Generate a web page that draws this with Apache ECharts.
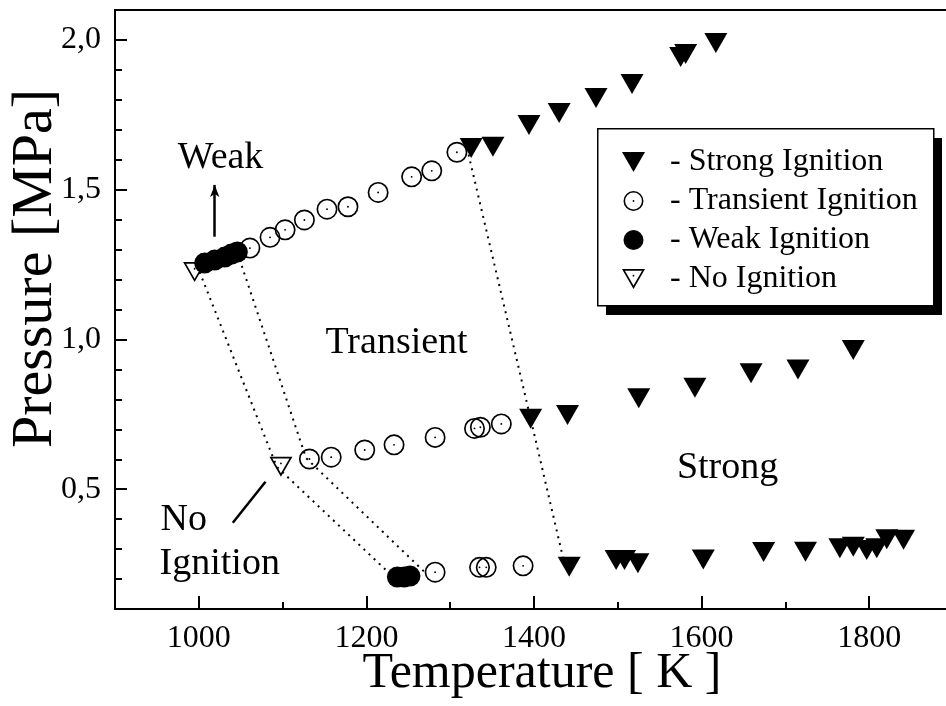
<!DOCTYPE html>
<html>
<head>
<meta charset="utf-8">
<script src="https://cdn.jsdelivr.net/npm/echarts@6/dist/echarts.min.js"></script>
<style>html,body{margin:0;padding:0;background:#fff}#c{width:946px;height:706px}</style>
</head>
<body>
<div id="c"></div>
<script>
// ---- data ----
const strongT = [1325, 1351, 1394, 1430, 1474, 1517, 1575, 1581, 1617,
                 1396, 1440, 1525, 1592, 1659, 1715, 1781,
                 1442, 1498, 1508, 1524, 1602, 1674, 1724, 1765, 1781, 1797, 1809, 1821, 1841];
const strongP = [1.639, 1.643, 1.716, 1.756, 1.806, 1.853, 1.943, 1.953, 1.990,
                 0.735, 0.748, 0.804, 0.839, 0.887, 0.900, 0.965,
                 0.241, 0.264, 0.264, 0.253, 0.265, 0.290, 0.291, 0.303, 0.308, 0.297, 0.303, 0.333, 0.331];
const transientT = [1061, 1085, 1103, 1126, 1153, 1178, 1214, 1254, 1278, 1308,
                    1132, 1158, 1198, 1233, 1282, 1329, 1336, 1361,
                    1282, 1335, 1343, 1387];
const transientP = [1.305, 1.341, 1.366, 1.399, 1.435, 1.443, 1.491, 1.543, 1.563, 1.625,
                    0.601, 0.607, 0.631, 0.648, 0.673, 0.703, 0.707, 0.718,
                    0.223, 0.239, 0.239, 0.244];
const weakT = [1007, 1019, 1031, 1039, 1046, 1237, 1245, 1252];
const weakP = [1.255, 1.265, 1.275, 1.285, 1.292, 0.207, 0.207, 0.210];
const noIgnT = [995, 1098];
const noIgnP = [1.225, 0.575];
// dotted boundary lines
const lineA_T = [1320, 1396, 1437];
const lineA_P = [1.640, 0.735, 0.243];
const lineB_T = [1001, 1093, 1232];
const lineB_P = [1.225, 0.575, 0.207];
const lineC_T = [1046, 1128, 1270];
const lineC_P = [1.290, 0.604, 0.222];
// axis ticks
const xMajorTicks = [1000, 1200, 1400, 1600, 1800];
const yMajorTicks = [0.5, 1.0, 1.5, 2.0];
const seriesNames = ['Strong Ignition', 'Transient Ignition', 'Weak Ignition', 'No Ignition'];

const zip = (a, b) => a.map((v, i) => [v, b[i]]);
const FONT = 'Liberation Serif';

const triPath = 'path://M0,0 L23,0 L11.5,20 Z';
const ringPath = 'path://M0,-10 A10,10 0 1 1 0,10 A10,10 0 1 1 0,-10 Z M0,-8.4 A8.4,8.4 0 1 0 0,8.4 A8.4,8.4 0 1 0 0,-8.4 Z M0,-0.9 A0.9,0.9 0 1 1 0,0.9 A0.9,0.9 0 1 1 0,-0.9 Z';
const openTriPath = 'path://M-11.5,-10 L11.5,-10 L0,10 Z M0,6.58 L8.56,-8.3 L-8.56,-8.3 Z M0,-4.2 A0.9,0.9 0 1 1 0,-2.4 A0.9,0.9 0 1 1 0,-4.2 Z';

const chart = echarts.init(document.getElementById('c'), null, {renderer: 'canvas'});

const dotted = {color: '#000', width: 2, type: [2, 5]};
const lineSeries = (name, T, P) => ({
  name: name, type: 'line', data: zip(T, P), symbol: 'none', silent: true,
  lineStyle: dotted, z: 1, animation: false
});
const solidItem = {color: '#000', opacity: 1};

const option = {
  animation: false,
  backgroundColor: '#fff',
  textStyle: {fontFamily: FONT, color: '#000'},
  grid: {left: 115, right: -7, top: 10, bottom: 97, containLabel: false, outerBoundsMode: 'none',
         show: true, borderColor: '#000', borderWidth: 2, backgroundColor: 'transparent'},
  graphic: [
    {type: 'rect', left: 606, top: 138, z: 2, silent: true, shape: {width: 336, height: 177}, style: {fill: '#000'}},
    {type: 'rect', left: 597, top: 128, z: 3, silent: true, shape: {width: 336, height: 177}, style: {fill: '#fff', stroke: '#000', lineWidth: 1.5}}
  ],
  legend: {
    orient: 'vertical', left: 617, top: 128, z: 10,
    data: [
      {name: seriesNames[0], icon: triPath, itemStyle: {color: '#000', borderWidth: 0}},
      {name: seriesNames[1], icon: ringPath, itemStyle: {color: '#000', borderWidth: 0}},
      {name: seriesNames[2], icon: 'circle', itemStyle: {color: '#000', borderWidth: 0}},
      {name: seriesNames[3], icon: openTriPath, itemStyle: {color: '#000', borderWidth: 0}}
    ],
    formatter: '- {name}',
    itemWidth: 63, itemHeight: 20, itemGap: 7,
    padding: [18, 0, 10, 5],
    selectedMode: false,
    textStyle: {fontFamily: FONT, fontSize: 32, lineHeight: 32, color: '#000'}
  },
  xAxis: [
    {type: 'value', min: 900, max: 1900, interval: 100, position: 'bottom',
     axisLine: {lineStyle: {color: '#000', width: 2}},
     axisTick: {inside: true, length: 7, lineStyle: {color: '#000', width: 2}},
     axisLabel: {show: false}, splitLine: {show: false}},
    {type: 'value', min: 900, max: 1900, position: 'bottom',
     axisLine: {show: false},
     axisTick: {inside: true, length: 13, customValues: xMajorTicks, lineStyle: {color: '#000', width: 2}},
     axisLabel: {customValues: xMajorTicks, fontSize: 32, fontFamily: FONT, color: '#000', margin: 14,
                 formatter: v => String(v)},
     splitLine: {show: false},
     name: 'Temperature [ K ]', nameLocation: 'middle', nameGap: 40, nameMoveOverlap: false,
     nameTextStyle: {fontSize: 50, fontFamily: FONT, color: '#000', padding: [0, 0, 0, 16]}}
  ],
  yAxis: [
    {type: 'value', min: 0.1, max: 2.1, interval: 0.1, position: 'left',
     axisLine: {lineStyle: {color: '#000', width: 2}},
     axisTick: {inside: true, length: 7, lineStyle: {color: '#000', width: 2}},
     axisLabel: {show: false}, splitLine: {show: false}},
    {type: 'value', min: 0.1, max: 2.1, position: 'left',
     axisLine: {show: false},
     axisTick: {inside: true, length: 12, customValues: yMajorTicks, lineStyle: {color: '#000', width: 2}},
     axisLabel: {customValues: yMajorTicks, fontSize: 32, fontFamily: FONT, color: '#000', margin: 14,
                 formatter: v => v.toFixed(1).replace('.', ',')},
     splitLine: {show: false},
     name: 'Pressure [MPa]', nameLocation: 'middle', nameGap: 50, nameMoveOverlap: false,
     nameTextStyle: {fontSize: 58, fontFamily: FONT, color: '#000', padding: [0, 0, 0, 82]}}
  ],
  series: [
    lineSeries('bA', lineA_T, lineA_P),
    lineSeries('bB', lineB_T, lineB_P),
    lineSeries('bC', lineC_T, lineC_P),
    {name: seriesNames[0], type: 'scatter', data: zip(strongT, strongP), symbol: triPath, symbolSize: [23, 20],
     itemStyle: solidItem, z: 3},
    {name: seriesNames[1], type: 'scatter', data: zip(transientT, transientP), symbol: ringPath, symbolSize: 21,
     itemStyle: solidItem, z: 3},
    {name: seriesNames[2], type: 'scatter', data: zip(weakT, weakP), symbol: 'circle', symbolSize: 21,
     itemStyle: solidItem, z: 3},
    {name: seriesNames[3], type: 'scatter', data: zip(noIgnT, noIgnP), symbol: openTriPath, symbolSize: [23, 20],
     itemStyle: solidItem, z: 3},
    {name: 'annotations', type: 'scatter', data: [], silent: true, z: 4,
     markLine: {
       silent: true, animation: false, label: {show: false},
       lineStyle: {color: '#000', width: 2.5, type: 'solid', opacity: 1},
       data: [
         [{coord: [1019, 1.343], symbol: 'none'}, {coord: [1019, 1.516], symbol: 'arrow', symbolSize: [7, 12]}],
         [{coord: [1040.6, 0.388], symbol: 'none'}, {coord: [1079.6, 0.525], symbol: 'none'}]
       ]
     },
     markPoint: {
       silent: true, animation: false, symbol: 'rect', symbolSize: 1,
       itemStyle: {color: 'transparent'},
       label: {show: true, position: 'inside', formatter: '{b}', fontFamily: FONT, fontSize: 38, color: '#000'},
       data: [
         {name: 'Weak', coord: [1026, 1.605]},
         {name: 'Transient', coord: [1236, 0.987]},
         {name: 'Strong', coord: [1631, 0.570]},
         {name: 'No', coord: [982, 0.397]},
         {name: 'Ignition', coord: [1025, 0.250]}
       ]
     }}
  ]
};
chart.setOption(option);
</script>
</body>
</html>
